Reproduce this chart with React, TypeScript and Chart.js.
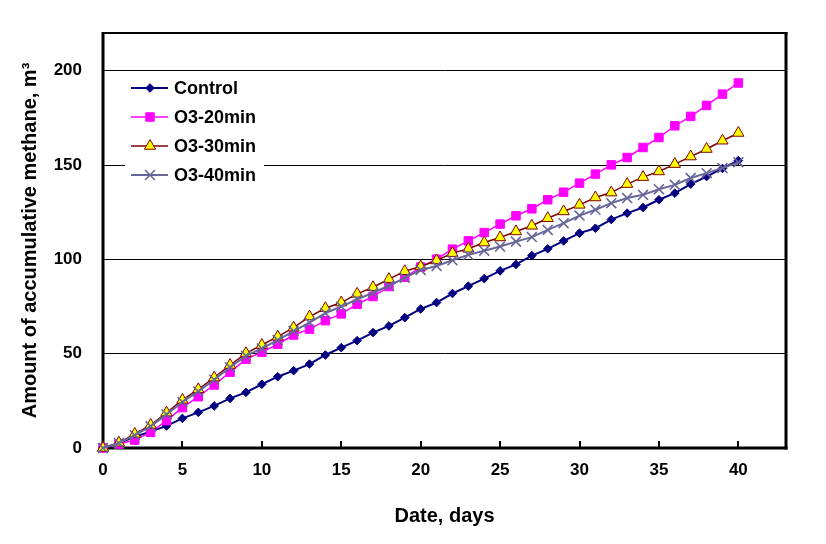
import React, { useEffect, useRef } from "react";
import { Chart, registerables } from "chart.js";

Chart.register(...registerables);

// ---- Data ----
const days = [0, 1, 2, 3, 4, 5, 6, 7, 8, 9, 10, 11, 12, 13, 14, 15, 16, 17, 18, 19, 20,
  21, 22, 23, 24, 25, 26, 27, 28, 29, 30, 31, 32, 33, 34, 35, 36, 37, 38, 39, 40];

const control = [0, 2.5, 6, 8.7, 11.7, 15.7, 18.9, 22.3, 26.3, 29.5, 33.8, 37.8, 41, 44.5, 49.3,
  53.2, 56.9, 61.2, 64.7, 69.1, 73.7, 77.1, 81.9, 85.8, 89.8, 93.9, 97.3, 102, 105.6, 109.8,
  113.9, 116.5, 121.1, 124.5, 127.5, 131.6, 135.1, 139.9, 143.9, 148.2, 152.4];

const o3_20 = [0, 2.1, 4.2, 8.3, 14.5, 21.4, 27.2, 33.4, 40.2, 47.1, 50.8, 55, 59.9, 63, 67.5,
  71.1, 76.2, 80.3, 85.6, 90.5, 95.9, 100.1, 105.4, 109.8, 114.2, 118.7, 123.1, 126.8, 131.6,
  135.6, 140.4, 145.2, 150.1, 154, 159.3, 164.6, 170.8, 175.8, 181.6, 187.6, 193.5];

const o3_30 = [0, 2.8, 7.4, 12.2, 18.7, 25.5, 31.1, 37.3, 44, 50.2, 54.6, 59, 63.8, 69.7, 74.1,
  77.1, 81.7, 85.2, 89.5, 93.7, 96.2, 99.4, 103.3, 105.6, 108.9, 111.6, 114.8, 117.8, 121.8,
  125.4, 128.9, 132.8, 135.4, 139.9, 143.6, 146.6, 150.5, 154.5, 158.5, 162.9, 167];

const o3_40 = [0, 2.6, 6.8, 11.5, 17.8, 24.4, 30, 36.2, 42.8, 48.8, 52.8, 57.2, 62, 66.5, 71.5,
  75, 78.8, 82.3, 86, 90.2, 94.4, 96.5, 99.5, 102.4, 104.6, 106.8, 109.4, 111.8, 115.6, 119.2,
  123.2, 126.3, 129.8, 132.5, 134.2, 137.2, 139.5, 143.1, 145.7, 148.4, 151.5];

const seriesNames = ["Control", "O3-20min", "O3-30min", "O3-40min"];
const xTickValues = [0, 5, 10, 15, 20, 25, 30, 35, 40];
const yTickValues = [0, 50, 100, 150, 200];

const xTitle = "Date, days";
const yTitle = "Amount of accumulative methane, m\u00B3";

const FONT = "'Liberation Sans', Arial, sans-serif";

type MarkerSpec = {
  style: string;
  radius: number;
  fill: string;
  stroke: string;
  pointBorderWidth: number;
  line: string;
  lineWidth: number;
};

const markers: MarkerSpec[] = [
  { style: "rectRot", radius: 4.3, fill: "#000080", stroke: "#000080", pointBorderWidth: 1, line: "#000080", lineWidth: 2 },
  { style: "rect", radius: 6, fill: "#FF00FF", stroke: "#FF00FF", pointBorderWidth: 1, line: "#FF00FF", lineWidth: 1.5 },
  { style: "triangle", radius: 6.5, fill: "#FFFF00", stroke: "#800000", pointBorderWidth: 1, line: "#800000", lineWidth: 1.5 },
  { style: "crossRot", radius: 7, fill: "#666699", stroke: "#666699", pointBorderWidth: 1.6, line: "#666699", lineWidth: 2 },
];

function drawMarker(ctx: CanvasRenderingContext2D, m: MarkerSpec, x: number, y: number) {
  const r = m.radius;
  ctx.save();
  ctx.fillStyle = m.fill;
  ctx.strokeStyle = m.stroke;
  ctx.lineWidth = m.pointBorderWidth;
  ctx.beginPath();
  if (m.style === "rectRot") {
    ctx.moveTo(x, y - r);
    ctx.lineTo(x + r, y);
    ctx.lineTo(x, y + r);
    ctx.lineTo(x - r, y);
    ctx.closePath();
    ctx.fill();
    ctx.stroke();
  } else if (m.style === "rect") {
    const s = r * Math.SQRT1_2;
    ctx.rect(x - s, y - s, 2 * s, 2 * s);
    ctx.fill();
    ctx.stroke();
  } else if (m.style === "triangle") {
    let rad = 0;
    ctx.moveTo(x + Math.sin(rad) * r, y - Math.cos(rad) * r);
    rad += (2 * Math.PI) / 3;
    ctx.lineTo(x + Math.sin(rad) * r, y - Math.cos(rad) * r);
    rad += (2 * Math.PI) / 3;
    ctx.lineTo(x + Math.sin(rad) * r, y - Math.cos(rad) * r);
    ctx.closePath();
    ctx.fill();
    ctx.stroke();
  } else {
    const o = r * Math.SQRT1_2;
    ctx.moveTo(x - o, y - o);
    ctx.lineTo(x + o, y + o);
    ctx.moveTo(x + o, y - o);
    ctx.lineTo(x - o, y + o);
    ctx.stroke();
  }
  ctx.restore();
}

const framePlugin = {
  id: "excelFrame",
  beforeDatasetsDraw(chart: any) {
    const { ctx, chartArea, scales } = chart;
    const { left, right, top, bottom } = chartArea;
    ctx.save();
    ctx.strokeStyle = "#000";
    // top border
    ctx.lineWidth = 2;
    ctx.beginPath();
    ctx.moveTo(left, top);
    ctx.lineTo(right + 1.5, top);
    ctx.stroke();
    // right border
    ctx.lineWidth = 3;
    ctx.beginPath();
    ctx.moveTo(right, top - 1);
    ctx.lineTo(right, bottom + 1.5);
    ctx.stroke();
    // left axis
    ctx.beginPath();
    ctx.moveTo(left, top - 1);
    ctx.lineTo(left, bottom + 1.5);
    ctx.stroke();
    // bottom axis
    ctx.beginPath();
    ctx.moveTo(left - 1.5, bottom);
    ctx.lineTo(right + 1.5, bottom);
    ctx.stroke();
    // inside tick marks on x axis
    ctx.lineWidth = 2;
    for (const v of xTickValues) {
      if (v === 0) continue;
      const px = Math.round(scales.x.getPixelForValue(v));
      ctx.beginPath();
      ctx.moveTo(px, bottom);
      ctx.lineTo(px, bottom - 7);
      ctx.stroke();
    }
    ctx.restore();
  },
  afterDraw(chart: any) {
    const ctx: CanvasRenderingContext2D = chart.ctx;
    ctx.save();
    ctx.fillStyle = "#fff";
    ctx.fillRect(125, 74, 139, 114);
    const rows = [88, 117, 146, 175];
    for (let i = 0; i < seriesNames.length; i++) {
      const m = markers[i];
      const y = rows[i];
      ctx.strokeStyle = m.line;
      ctx.lineWidth = m.lineWidth;
      ctx.beginPath();
      ctx.moveTo(131, y);
      ctx.lineTo(168, y);
      ctx.stroke();
      drawMarker(ctx, m, 150, y);
      ctx.fillStyle = "#000";
      ctx.font = `bold 18px ${FONT}`;
      ctx.textAlign = "left";
      ctx.textBaseline = "middle";
      ctx.fillText(seriesNames[i], 174, y + 1);
    }
    ctx.restore();
  },
};

export default function App() {
  const canvasRef = useRef<HTMLCanvasElement | null>(null);

  useEffect(() => {
    if (!canvasRef.current) return;
    const seriesData = [control, o3_20, o3_30, o3_40];
    const datasets = seriesData.map((vals, i) => {
      const m = markers[i];
      return {
        label: seriesNames[i],
        data: days.map((d, j) => ({ x: d, y: vals[j] })),
        borderColor: m.line,
        borderWidth: m.lineWidth,
        backgroundColor: m.fill,
        pointStyle: m.style,
        pointRadius: m.radius,
        pointBackgroundColor: m.fill,
        pointBorderColor: m.stroke,
        pointBorderWidth: m.pointBorderWidth,
        tension: 0,
        fill: false,
        clip: false,
        order: 4 - i,
      };
    });

    const chart = new Chart(canvasRef.current, {
      type: "line",
      data: { datasets } as any,
      plugins: [framePlugin as any],
      options: {
        animation: false,
        responsive: false,
        events: [],
        layout: { padding: { top: 33, right: 40, left: 0, bottom: 0 } },
        plugins: {
          legend: { display: false },
          tooltip: { enabled: false },
        },
        scales: {
          x: {
            type: "linear",
            min: 0,
            max: 43,
            border: { display: false },
            grid: { display: false, drawTicks: false },
            afterBuildTicks: (scale: any) => {
              scale.ticks = xTickValues.map((v) => ({ value: v }));
            },
            afterFit: (scale: any) => {
              scale.height = 96;
            },
            ticks: {
              padding: 12,
              color: "#000",
              maxRotation: 0,
              autoSkip: false,
              font: { family: FONT, size: 17, weight: "bold" },
            },
            title: {
              display: true,
              text: xTitle,
              color: "#000",
              font: { family: FONT, size: 20, weight: "bold" },
              padding: { top: 0, bottom: 16 },
            },
          },
          y: {
            type: "linear",
            min: 0,
            max: 220,
            border: { display: false },
            grid: { color: "#000", lineWidth: 1, drawTicks: false },
            afterBuildTicks: (scale: any) => {
              scale.ticks = yTickValues.map((v) => ({ value: v }));
            },
            afterFit: (scale: any) => {
              scale.width = 103;
            },
            ticks: {
              padding: 21,
              color: "#000",
              font: { family: FONT, size: 17, weight: "bold" },
            },
            title: {
              display: true,
              text: yTitle,
              color: "#000",
              font: { family: FONT, size: 20, weight: "bold" },
              padding: { top: 18, bottom: 0 },
            },
          },
        },
      } as any,
    });
    return () => chart.destroy();
  }, []);

  return (
    <div style={{ position: "absolute", left: 0, top: 0, width: 826, height: 544, background: "#fff" }}>
      <canvas ref={canvasRef} width={826} height={544} style={{ display: "block", width: 826, height: 544 }} />
    </div>
  );
}
